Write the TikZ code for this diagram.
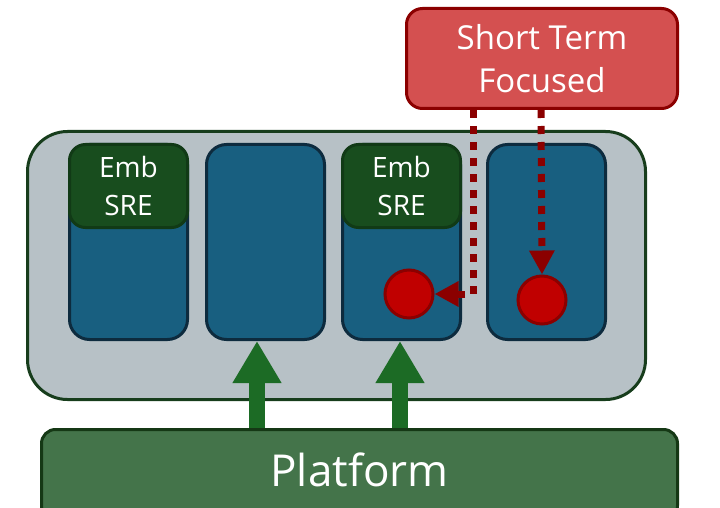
\documentclass[tikz,border=0pt]{standalone}
\usepackage{fontspec}
\setmainfont{Open Sans}
\usetikzlibrary{arrows.meta,calc}
\definecolor{panelgray}{HTML}{B7C1C6}
\definecolor{paneledge}{HTML}{173D1C}
\definecolor{colfill}{HTML}{185F80}
\definecolor{coledge}{HTML}{0D2B3E}
\definecolor{embfill}{HTML}{184D1E}
\definecolor{embedge}{HTML}{113A16}
\definecolor{stffill}{HTML}{D45050}
\definecolor{darkred}{HTML}{8B0000}
\definecolor{dotfill}{HTML}{C00000}
\definecolor{platfill}{HTML}{44744A}
\definecolor{platedge}{HTML}{153815}
\definecolor{arrowgreen}{HTML}{1C6B25}
\tikzset{
  box/.style={draw, anchor=north west, inner sep=0pt, align=center, text=white},
  colbox/.style={box, fill=colfill, draw=coledge, line width=3pt, rounded corners=20pt,
    minimum width=118pt, minimum height=195pt},
  embbox/.style={box, fill=embfill, draw=embedge, line width=3pt, rounded corners=16pt,
    minimum width=118pt, minimum height=83pt, font=\fontsize{28}{38}\selectfont},
  hotdot/.style={circle, fill=dotfill, draw=darkred, line width=3pt, minimum size=48pt, inner sep=0pt},
  uparrow/.style={arrowgreen, line width=16pt, -{Triangle[width=46pt,length=42pt]}},
  redlink/.style={darkred, line width=7pt, dash pattern=on 8pt off 8pt,
    -{Triangle[width=24pt,length=24pt]}}
}
\begin{document}
\begin{tikzpicture}[x=1pt,y=-1pt]
\useasboundingbox (0,0) rectangle (720,508);
% outer panel
\node[box, fill=panelgray, draw=paneledge, line width=3pt, rounded corners=40pt,
  minimum width=618pt, minimum height=268pt] (outer) at (26,130) {};
% columns
\node[colbox] (col1) at (68,143) {};
\node[colbox] (col2) at (205,143) {};
\node[colbox] (col3) at (341,143) {};
\node[colbox] (col4) at (486,143) {};
\node[embbox] (emb1) at (68,143) {Emb\\SRE};
\node[embbox] (emb3) at (341,143) {Emb\\SRE};
% red markers
\node[hotdot] (dot1) at (409,294) {};
\node[hotdot] (dot2) at (542,300) {};
% short term box
\node[box, fill=stffill, draw=darkred, line width=3pt, rounded corners=16pt,
  minimum width=271pt, minimum height=100pt, font=\fontsize{33}{43}\selectfont]
  (stf) at (405,7) {Short Term\\Focused};
% platform
\node[box, fill=platfill, draw=platedge, line width=3pt, rounded corners=14pt,
  minimum width=636pt, minimum height=90pt, font=\fontsize{44}{50}\selectfont]
  (plat) at (40,428) {\raisebox{-12pt}[0pt][0pt]{Platform}};
% platform arrows
\draw[uparrow] (plat.north -| 257,0) -- (col2.south -| 257,0);
\draw[uparrow] (plat.north -| 400,0) -- (col3.south -| 400,0);
% dotted links
\draw[redlink] (stf.south -| 473,0) |- (dot1.east);
\draw[redlink] (stf.south -| 541,0) -- (dot2.north);
\end{tikzpicture}
\end{document}
